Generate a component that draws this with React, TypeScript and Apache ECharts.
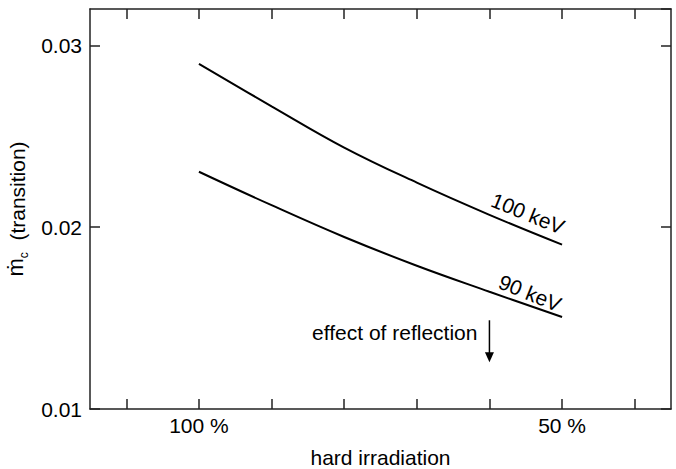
import React, { useEffect, useRef } from "react";
import * as echarts from "echarts";

const irradiation = [100, 90, 80, 70, 60, 50];
const mdot100keV = [0.02898, 0.02665, 0.02438, 0.02245, 0.02068, 0.01904];
const mdot90keV = [0.02305, 0.02121, 0.01946, 0.01788, 0.01645, 0.01506];
const xTicks = [40, 50, 60, 70, 80, 90, 100, 110];
const xTickLabels = [50, 100];
const seriesLabels = ["100 keV", "90 keV"];
const labelPos = [
  [54.7, 0.02076],
  [54.4, 0.01638],
];
const annotationText = "effect of reflection";
const arrowX = 60;
const arrowFrom = 0.01488;
const arrowTo = 0.01257;

const FONT = "Liberation Sans, Arial, Helvetica, sans-serif";
const AXIS_COLOR = "#222";
const FS = 21;

export default function App() {
  const ref = useRef<HTMLDivElement>(null);
  useEffect(() => {
    document.body.style.margin = "0";
    const chart = echarts.init(ref.current!, null, { renderer: "svg" });
    const pair = (ys: number[]) => irradiation.map((x, i) => [x, ys[i]]);
    const xBase = {
      type: "value",
      min: 35,
      max: 115,
      inverse: true,
      axisLine: { show: true, lineStyle: { color: AXIS_COLOR, width: 1.5 } },
      axisTick: {
        show: true,
        inside: true,
        length: 10,
        customValues: xTicks,
        lineStyle: { color: AXIS_COLOR, width: 1.5 },
      },
      splitLine: { show: false },
    };
    const yBase = {
      type: "value",
      min: 0.01,
      max: 0.032,
      interval: 0.01,
      axisLine: { show: true, lineStyle: { color: AXIS_COLOR, width: 1.5 } },
      axisTick: { show: true, inside: true, length: 10, lineStyle: { color: AXIS_COLOR, width: 1.5 } },
      splitLine: { show: false },
    };
    const option: any = {
      animation: false,
      textStyle: { fontFamily: FONT },
      grid: { left: 90, right: 5, top: 9, bottom: 60, containLabel: false, outerBoundsMode: "none" },
      xAxis: [
        {
          ...xBase,
          position: "bottom",
          axisLabel: {
            show: true,
            customValues: xTickLabels,
            formatter: (v: number) => `${v} %`,
            fontSize: FS,
            color: "#000",
            fontFamily: FONT,
            margin: 6,
          },
          name: "hard irradiation",
          nameLocation: "middle",
          nameGap: 37,
          nameTextStyle: { fontSize: FS, color: "#000", fontFamily: FONT, lineHeight: 22 },
        },
        { ...xBase, position: "top", axisLabel: { show: false } },
      ],
      yAxis: [
        {
          ...yBase,
          position: "left",
          axisLabel: {
            show: true,
            showMaxLabel: false,
            formatter: (v: number) => (v > 0.031 ? "" : v.toFixed(2)),
            fontSize: FS,
            color: "#000",
            fontFamily: FONT,
            margin: 8,
          },
          name: "{m|ṁ}{c|c}{t|  (transition)}",
          nameLocation: "middle",
          nameRotate: 90,
          nameGap: 58,
          nameTextStyle: {
            fontFamily: FONT,
            color: "#000",
            rich: {
              m: { fontSize: 22, fontFamily: FONT, color: "#000", lineHeight: 26, verticalAlign: "top" },
              c: { fontSize: 12, fontFamily: FONT, color: "#000", lineHeight: 26, verticalAlign: "bottom", padding: [8, 0, 0, 0] },
              t: { fontSize: FS, fontFamily: FONT, color: "#000", lineHeight: 26 },
            },
          },
        },
        { ...yBase, position: "right", axisLabel: { show: false } },
      ],
      series: [
        {
          type: "line",
          name: seriesLabels[0],
          data: pair(mdot100keV),
          smooth: 0.4,
          showSymbol: false,
          symbol: "none",
          lineStyle: { color: "#000", width: 2 },
        },
        {
          type: "line",
          name: seriesLabels[1],
          data: pair(mdot90keV),
          smooth: 0.4,
          showSymbol: false,
          symbol: "none",
          lineStyle: { color: "#000", width: 2 },
        },
      ],
    };
    chart.setOption(option);

    const toPx = (x: number, y: number) => chart.convertToPixel({ gridIndex: 0 }, [x, y]) as number[];
    const graphics: any[] = [];
    seriesLabels.forEach((txt, i) => {
      const p = toPx(labelPos[i][0], labelPos[i][1]);
      graphics.push({
        type: "text",
        x: p[0],
        y: p[1],
        rotation: (-22 * Math.PI) / 180,
        style: {
          text: txt,
          fontSize: FS,
          fontFamily: FONT,
          fill: "#000",
          align: "center",
          verticalAlign: "middle",
        },
      });
    });
    const a0 = toPx(arrowX, arrowFrom);
    const a1 = toPx(arrowX, arrowTo);
    graphics.push({
      type: "line",
      shape: { x1: a0[0], y1: a0[1], x2: a1[0], y2: a1[1] - 8 },
      style: { stroke: "#000", lineWidth: 1.5 },
    });
    graphics.push({
      type: "polygon",
      shape: {
        points: [
          [a1[0] - 4.5, a1[1] - 10],
          [a1[0] + 4.5, a1[1] - 10],
          [a1[0], a1[1]],
        ],
      },
      style: { fill: "#000" },
    });
    graphics.push({
      type: "text",
      x: a0[0] - 12,
      y: a0[1] + 12,
      style: {
        text: annotationText,
        fontSize: FS,
        fontFamily: FONT,
        fill: "#000",
        align: "right",
        verticalAlign: "middle",
      },
    });
    chart.setOption({ graphic: graphics });

    return () => chart.dispose();
  }, []);
  return <div ref={ref} style={{ width: 676, height: 469 }} />;
}
